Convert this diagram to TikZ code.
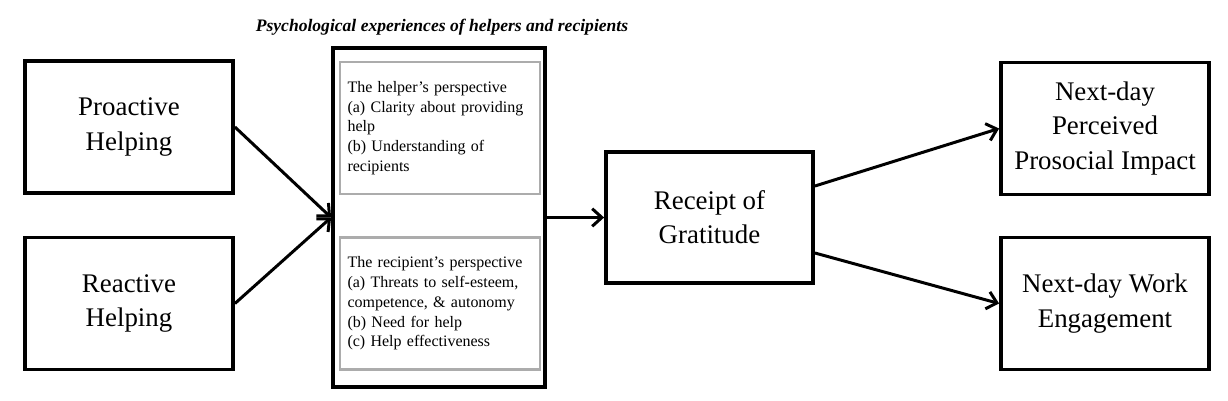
\documentclass[tikz,border=0pt]{standalone}
\usepackage{fontspec}
\setmainfont{Liberation Serif}
\usepackage{xcolor}
\usetikzlibrary{arrows.meta,positioning}

\tikzset{
    box/.style={draw, line width=2.2pt, align=center, inner sep=2pt,
        font=\fontsize{15.3}{19.5}\selectfont,
        minimum width=4.16cm, minimum height=2.64cm},
    inbox/.style={draw=gray!65, line width=1.6pt, align=left, inner sep=0pt,
        font=\fontsize{9.1}{11.2}\selectfont, text width=3.7cm,
        minimum width=4cm, minimum height=2.64cm},
    link/.style={-{Straight Barb[length=5.5pt,width=10pt]}, line width=1.7pt}
}

\begin{document}
\begin{tikzpicture}[x=0.02cm,y=-0.02cm]

    \useasboundingbox (0,0) rectangle (1228,400);

    % Title
    \node[font=\fontsize{10}{11}\selectfont\bfseries\itshape] (title) at (442,27)
        {Psychological experiences of helpers and recipients};

    % Left boxes
    \node[box] (pro) at (129,127) {Proactive\\Helping};
    \node[box] (rea) at (129,303.5) {Reactive\\Helping};

    % Middle box
    \node[draw, line width=2.2pt, minimum width=4.24cm, minimum height=6.78cm] (mid) at (439,217.5) {};
    \node[inbox] (hlp) at (440,128)
        {The helper's perspective\\(a) Clarity about providing\\help\\(b) Understanding of\\recipients};
    \node[inbox] (rcp) at (440,303.5)
        {The recipient's perspective\\(a) Threats to self-esteem,\\competence, \& autonomy\\(b) Need for help\\(c) Help effectiveness};

    % Gratitude
    \node[box, minimum width=4.14cm, minimum height=2.62cm] (grat) at (709.5,217.5) {Receipt of\\Gratitude};

    % Right boxes
    \node[box] (imp) at (1105,128.5) {Next-day\\Perceived\\Prosocial Impact};
    \node[box] (eng) at (1105,303.5) {Next-day Work\\Engagement};

    % Arrows
    \draw[link] (pro.east) -- (mid.west);
    \draw[link] (rea.east) -- (mid.west);
    \draw[link] (mid.east) -- (grat.west);
    \draw[link] ([yshift=0.63cm]grat.east) -- (imp.west);
    \draw[link] ([yshift=-0.71cm]grat.east) -- (eng.west);

\end{tikzpicture}
\end{document}
